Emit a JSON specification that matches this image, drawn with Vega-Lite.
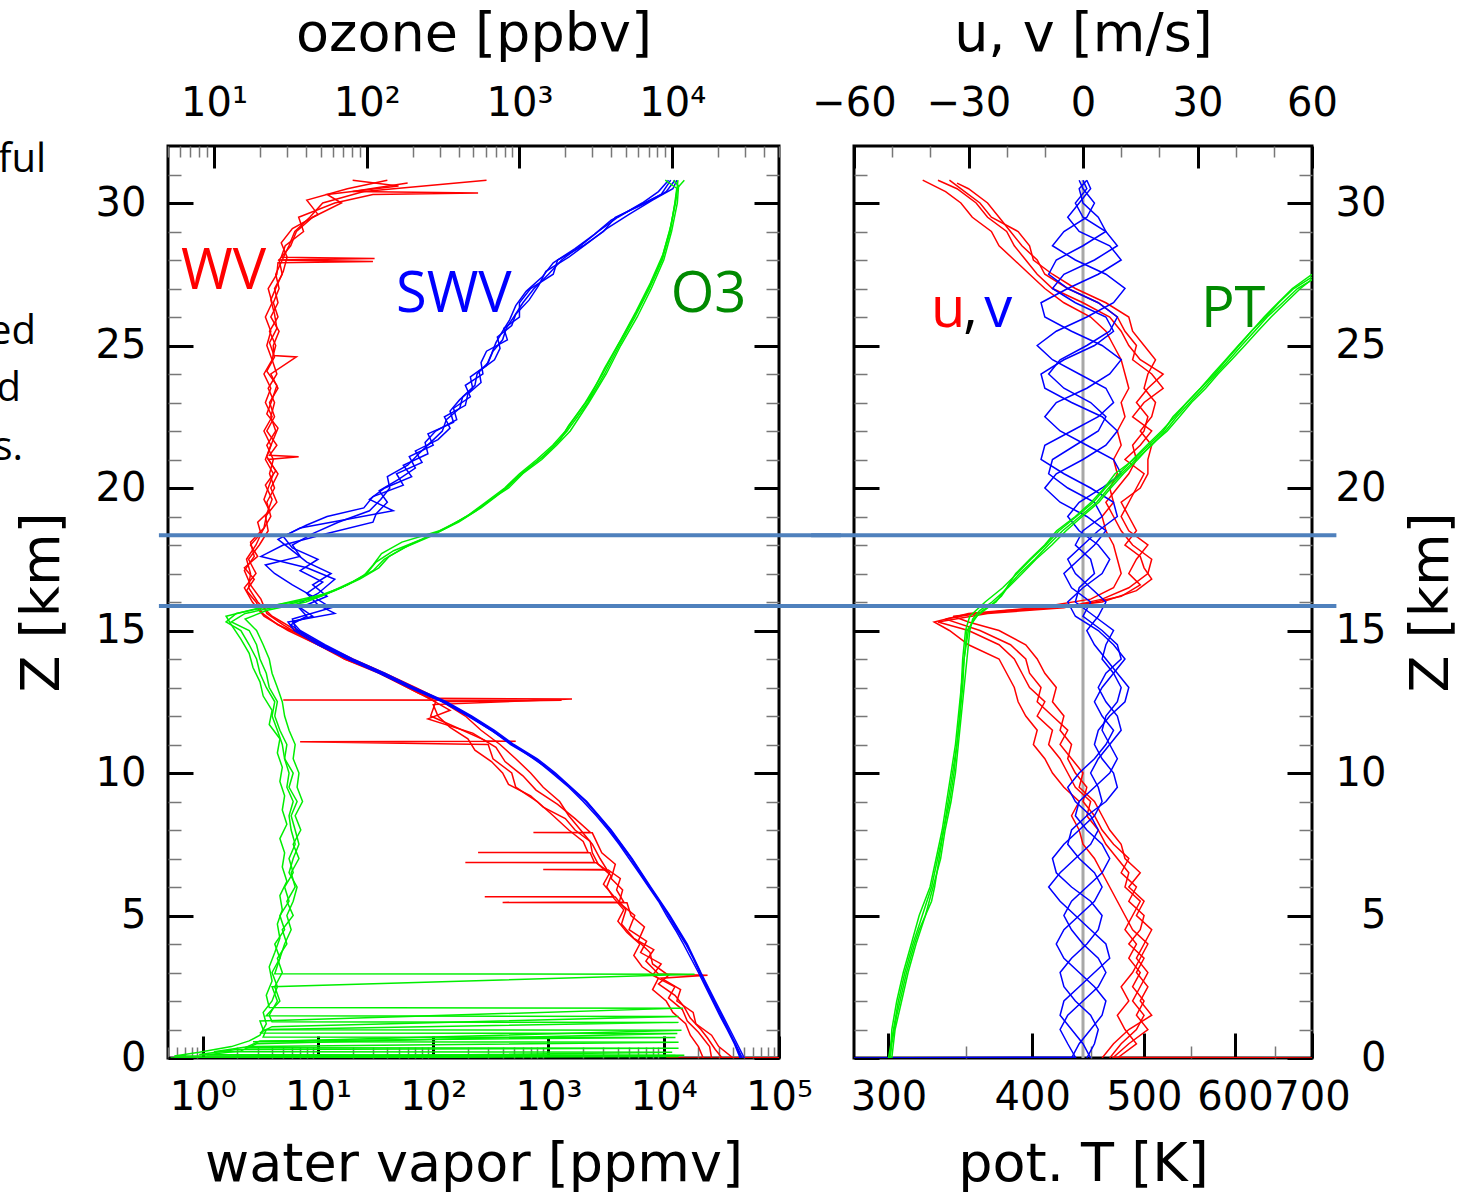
{
"$schema": "https://vega.github.io/schema/vega-lite/v6.json",
"padding": {"left": -13, "top": 5, "right": 0, "bottom": 0},
"bounds": "flush",
"spacing": 75,
"config": {
 "view": {"stroke": "#000", "strokeWidth": 3},
 "axis": {"labelFont": "DejaVu Sans", "labelFontSize": 40, "labelColor": "#000", "titleFont": "DejaVu Sans", "titleFontSize": 54, "titleFontWeight": "normal", "titleColor": "#000", "grid": false, "domain": false, "labelFlush": false, "labelOverlap": false, "labelBound": false}
},
"datasets": {
 "wv": [
  {"p":1,"z":0,"x":10500},{"p":1,"z":0.005,"x":100000},{"p":1,"z":0.01,"x":32000},{"p":1,"z":0.3,"x":28000},{"p":1,"z":0.7,"x":24000},{"p":1,"z":1.0,"x":21000},{"p":1,"z":1.4,"x":17000},{"p":1,"z":1.8,"x":15000},{"p":1,"z":2.2,"x":12500},{"p":1,"z":2.6,"x":9000},{"p":1,"z":2.9,"x":11000},{"p":1,"z":3.3,"x":8000},{"p":1,"z":3.7,"x":7600},{"p":1,"z":4.1,"x":6000},{"p":1,"z":4.6,"x":6800},{"p":1,"z":5.0,"x":5200},{"p":1,"z":5.45,"x":4800},{"p":1,"z":5.46,"x":400},{"p":1,"z":5.47,"x":4500},{"p":1,"z":5.9,"x":3900},{"p":1,"z":6.3,"x":4200},{"p":1,"z":6.6,"x":3300},{"p":1,"z":6.61,"x":900},{"p":1,"z":6.62,"x":3200},{"p":1,"z":7.0,"x":2800},{"p":1,"z":7.5,"x":2400},{"p":1,"z":8.0,"x":1900},{"p":1,"z":8.5,"x":1500},{"p":1,"z":9.0,"x":1250},{"p":1,"z":9.5,"x":900},{"p":1,"z":10.0,"x":700},{"p":1,"z":10.5,"x":520},{"p":1,"z":11.0,"x":380},{"p":1,"z":11.5,"x":260},{"p":1,"z":12.0,"x":190},{"p":1,"z":12.5,"x":120},{"p":1,"z":12.55,"x":1300},{"p":1,"z":12.56,"x":5},{"p":1,"z":12.57,"x":115},{"p":1,"z":13.0,"x":70},{"p":1,"z":13.5,"x":38},{"p":1,"z":14.0,"x":20},{"p":1,"z":14.5,"x":11},{"p":1,"z":15.0,"x":6.5},{"p":1,"z":15.5,"x":4.0},{"p":1,"z":16.0,"x":3.0},{"p":1,"z":16.5,"x":2.5},{"p":1,"z":17.0,"x":2.6},{"p":1,"z":17.5,"x":2.4},{"p":1,"z":18.0,"x":2.9},{"p":1,"z":18.5,"x":3.3},{"p":1,"z":19.0,"x":3.9},{"p":1,"z":19.5,"x":3.6},{"p":1,"z":20.0,"x":4.2},{"p":1,"z":20.5,"x":3.8},{"p":1,"z":21.0,"x":4.1},{"p":1,"z":21.5,"x":3.6},{"p":1,"z":22.0,"x":4.3},{"p":1,"z":22.5,"x":3.9},{"p":1,"z":23.0,"x":4.2},{"p":1,"z":23.5,"x":3.7},{"p":1,"z":24.0,"x":4.4},{"p":1,"z":24.5,"x":4.0},{"p":1,"z":25.0,"x":4.3},{"p":1,"z":25.5,"x":3.8},{"p":1,"z":26.0,"x":4.5},{"p":1,"z":26.5,"x":4.1},{"p":1,"z":27.0,"x":4.6},{"p":1,"z":27.5,"x":4.3},{"p":1,"z":28.0,"x":4.9},{"p":1,"z":28.5,"x":5.6},{"p":1,"z":29.0,"x":6.3},{"p":1,"z":29.5,"x":8.5},{"p":1,"z":30.0,"x":11},{"p":1,"z":30.4,"x":25},{"p":1,"z":30.8,"x":290},
  {"p":2,"z":0,"x":40000},{"p":2,"z":0.4,"x":30000},{"p":2,"z":0.8,"x":26000},{"p":2,"z":1.2,"x":19000},{"p":2,"z":1.6,"x":18000},{"p":2,"z":2.0,"x":13000},{"p":2,"z":2.4,"x":14000},{"p":2,"z":2.8,"x":9500},{"p":2,"z":2.9,"x":24000},{"p":2,"z":2.95,"x":9000},{"p":2,"z":3.4,"x":7000},{"p":2,"z":3.8,"x":8200},{"p":2,"z":4.2,"x":5500},{"p":2,"z":4.7,"x":4300},{"p":2,"z":5.2,"x":4700},{"p":2,"z":5.65,"x":3800},{"p":2,"z":5.66,"x":280},{"p":2,"z":5.67,"x":3700},{"p":2,"z":6.1,"x":3000},{"p":2,"z":6.5,"x":3400},{"p":2,"z":6.85,"x":2600},{"p":2,"z":6.86,"x":190},{"p":2,"z":6.87,"x":2500},{"p":2,"z":7.2,"x":2300},{"p":2,"z":7.21,"x":245},{"p":2,"z":7.22,"x":2200},{"p":2,"z":7.6,"x":2000},{"p":2,"z":8.0,"x":1500},{"p":2,"z":8.5,"x":1100},{"p":2,"z":9.0,"x":800},{"p":2,"z":9.5,"x":520},{"p":2,"z":10.0,"x":480},{"p":2,"z":10.5,"x":330},{"p":2,"z":11.0,"x":300},{"p":2,"z":11.1,"x":7},{"p":2,"z":11.11,"x":520},{"p":2,"z":11.12,"x":290},{"p":2,"z":11.5,"x":180},{"p":2,"z":12.0,"x":95},{"p":2,"z":12.5,"x":105},{"p":2,"z":13.0,"x":60},{"p":2,"z":13.5,"x":34},{"p":2,"z":14.0,"x":17},{"p":2,"z":14.5,"x":10},{"p":2,"z":15.0,"x":5.5},{"p":2,"z":15.5,"x":3.4},{"p":2,"z":16.0,"x":2.7},{"p":2,"z":16.5,"x":2.3},{"p":2,"z":17.0,"x":2.9},{"p":2,"z":17.5,"x":2.5},{"p":2,"z":18.0,"x":3.1},{"p":2,"z":18.5,"x":3.7},{"p":2,"z":19.0,"x":3.5},{"p":2,"z":19.5,"x":4.4},{"p":2,"z":20.0,"x":3.9},{"p":2,"z":20.5,"x":4.5},{"p":2,"z":21.0,"x":3.7},{"p":2,"z":21.1,"x":6.8},{"p":2,"z":21.15,"x":3.8},{"p":2,"z":21.5,"x":4.4},{"p":2,"z":22.0,"x":3.6},{"p":2,"z":22.5,"x":4.2},{"p":2,"z":23.0,"x":3.8},{"p":2,"z":23.5,"x":4.5},{"p":2,"z":24.0,"x":3.9},{"p":2,"z":24.6,"x":6.5},{"p":2,"z":24.65,"x":4.1},{"p":2,"z":25.0,"x":4.1},{"p":2,"z":25.5,"x":4.6},{"p":2,"z":26.0,"x":3.9},{"p":2,"z":26.5,"x":4.5},{"p":2,"z":27.0,"x":4.2},{"p":2,"z":27.5,"x":4.9},{"p":2,"z":28.0,"x":4.6},{"p":2,"z":28.05,"x":31},{"p":2,"z":28.1,"x":4.8},{"p":2,"z":28.5,"x":5.2},{"p":2,"z":29.0,"x":7.5},{"p":2,"z":29.5,"x":6.8},{"p":2,"z":30.0,"x":14},{"p":2,"z":30.3,"x":30},{"p":2,"z":30.35,"x":245},{"p":2,"z":30.4,"x":20},{"p":2,"z":30.7,"x":60},
  {"p":3,"z":0,"x":26000},{"p":3,"z":0.4,"x":25000},{"p":3,"z":0.9,"x":20000},{"p":3,"z":1.3,"x":16000},{"p":3,"z":1.7,"x":14500},{"p":3,"z":2.1,"x":11000},{"p":3,"z":2.5,"x":12500},{"p":3,"z":2.9,"x":8000},{"p":3,"z":3.3,"x":9500},{"p":3,"z":3.7,"x":6300},{"p":3,"z":4.1,"x":7100},{"p":3,"z":4.5,"x":5000},{"p":3,"z":5.0,"x":5600},{"p":3,"z":5.45,"x":4100},{"p":3,"z":5.9,"x":4400},{"p":3,"z":6.3,"x":3500},{"p":3,"z":6.8,"x":3800},{"p":3,"z":7.2,"x":2900},{"p":3,"z":7.9,"x":2400},{"p":3,"z":7.91,"x":740},{"p":3,"z":7.92,"x":2300},{"p":3,"z":8.4,"x":1700},{"p":3,"z":8.9,"x":1200},{"p":3,"z":9.4,"x":780},{"p":3,"z":9.9,"x":600},{"p":3,"z":10.4,"x":420},{"p":3,"z":10.9,"x":350},{"p":3,"z":11.4,"x":220},{"p":3,"z":11.9,"x":90},{"p":3,"z":12.2,"x":140},{"p":3,"z":12.7,"x":85},{"p":3,"z":13.2,"x":50},{"p":3,"z":13.7,"x":29},{"p":3,"z":14.2,"x":14},{"p":3,"z":14.7,"x":8},{"p":3,"z":15.2,"x":5},{"p":3,"z":15.6,"x":3.6},{"p":3,"z":16.1,"x":3.2},{"p":3,"z":16.6,"x":2.6},{"p":3,"z":17.1,"x":2.3},{"p":3,"z":17.6,"x":2.8},{"p":3,"z":18.1,"x":2.6},{"p":3,"z":18.6,"x":3.4},{"p":3,"z":19.1,"x":3.6},{"p":3,"z":19.6,"x":4.0},{"p":3,"z":20.1,"x":3.5},{"p":3,"z":20.6,"x":4.3},{"p":3,"z":21.1,"x":3.6},{"p":3,"z":21.6,"x":4.0},{"p":3,"z":22.1,"x":4.5},{"p":3,"z":22.6,"x":3.6},{"p":3,"z":23.1,"x":4.0},{"p":3,"z":23.6,"x":4.4},{"p":3,"z":24.1,"x":3.6},{"p":3,"z":24.6,"x":4.2},{"p":3,"z":25.1,"x":3.8},{"p":3,"z":25.6,"x":4.4},{"p":3,"z":26.1,"x":4.2},{"p":3,"z":26.6,"x":3.9},{"p":3,"z":27.1,"x":4.4},{"p":3,"z":27.6,"x":5.0},{"p":3,"z":28.1,"x":5.4},{"p":3,"z":28.6,"x":4.8},{"p":3,"z":29.1,"x":6},{"p":3,"z":29.6,"x":10},{"p":3,"z":30.1,"x":8},{"p":3,"z":30.5,"x":18},{"p":3,"z":30.8,"x":40},
  {"p":4,"z":0,"x":22000},{"p":4,"z":0.4,"x":20000},{"p":4,"z":0.8,"x":17000},{"p":4,"z":1.2,"x":15500},{"p":4,"z":1.6,"x":12000},{"p":4,"z":2.0,"x":10500},{"p":4,"z":2.4,"x":8000},{"p":4,"z":2.8,"x":9000},{"p":4,"z":3.2,"x":6500},{"p":4,"z":3.6,"x":5500},{"p":4,"z":4.0,"x":6200},{"p":4,"z":4.4,"x":4800},{"p":4,"z":4.8,"x":4000},{"p":4,"z":5.2,"x":4500},{"p":4,"z":5.6,"x":3700},{"p":4,"z":6.0,"x":3200},{"p":4,"z":6.4,"x":3500},{"p":4,"z":6.8,"x":2700},{"p":4,"z":7.2,"x":2400},{"p":4,"z":7.6,"x":2300},{"p":4,"z":8.0,"x":1700},{"p":4,"z":8.4,"x":1400},{"p":4,"z":8.8,"x":900},{"p":4,"z":9.2,"x":700},{"p":4,"z":9.6,"x":450},{"p":4,"z":10.0,"x":400},{"p":4,"z":10.4,"x":320},{"p":4,"z":10.8,"x":230},{"p":4,"z":11.2,"x":200},{"p":4,"z":11.6,"x":140},{"p":4,"z":12.0,"x":110},{"p":4,"z":12.4,"x":100},{"p":4,"z":12.6,"x":1600},{"p":4,"z":12.62,"x":98},{"p":4,"z":12.8,"x":75},{"p":4,"z":13.2,"x":48},{"p":4,"z":13.6,"x":31},{"p":4,"z":14.0,"x":17},{"p":4,"z":14.4,"x":12},{"p":4,"z":14.8,"x":7.5},{"p":4,"z":15.2,"x":4.5},{"p":4,"z":15.6,"x":3.3},{"p":4,"z":16.0,"x":2.9},{"p":4,"z":16.4,"x":2.4},{"p":4,"z":16.8,"x":2.8},{"p":4,"z":17.2,"x":2.3},{"p":4,"z":17.6,"x":3.0},{"p":4,"z":18.0,"x":2.6},{"p":4,"z":18.4,"x":3.2},{"p":4,"z":18.8,"x":3.0},{"p":4,"z":19.2,"x":3.8},{"p":4,"z":19.6,"x":3.4},{"p":4,"z":20.0,"x":3.7},{"p":4,"z":20.5,"x":4.1},{"p":4,"z":21.0,"x":3.5},{"p":4,"z":21.5,"x":3.9},{"p":4,"z":22.0,"x":3.4},{"p":4,"z":22.5,"x":4.0},{"p":4,"z":23.0,"x":3.5},{"p":4,"z":23.5,"x":3.9},{"p":4,"z":24.0,"x":3.4},{"p":4,"z":24.5,"x":4.0},{"p":4,"z":25.0,"x":3.6},{"p":4,"z":25.5,"x":3.9},{"p":4,"z":26.0,"x":3.5},{"p":4,"z":26.5,"x":4.0},{"p":4,"z":27.0,"x":3.7},{"p":4,"z":27.5,"x":4.4},{"p":4,"z":27.9,"x":4.5},{"p":4,"z":27.95,"x":30},{"p":4,"z":28.0,"x":4.6},{"p":4,"z":28.5,"x":5.8},{"p":4,"z":29.0,"x":6.5},{"p":4,"z":29.5,"x":9},{"p":4,"z":30.0,"x":16},{"p":4,"z":30.3,"x":12},{"p":4,"z":30.6,"x":50},{"p":4,"z":30.8,"x":20}
 ],
 "swv": [
  {"p":1,"z":0,"x":48000},{"p":1,"z":0.5,"x":42000},{"p":1,"z":1,"x":36000},{"p":1,"z":1.5,"x":31000},{"p":1,"z":2,"x":27000},{"p":1,"z":2.5,"x":23500},{"p":1,"z":3,"x":20500},{"p":1,"z":3.5,"x":18000},{"p":1,"z":4,"x":15500},{"p":1,"z":4.5,"x":13000},{"p":1,"z":5,"x":11000},{"p":1,"z":5.5,"x":9200},{"p":1,"z":6,"x":7500},{"p":1,"z":6.5,"x":6200},{"p":1,"z":7,"x":5200},{"p":1,"z":7.5,"x":4200},{"p":1,"z":8,"x":3400},{"p":1,"z":8.5,"x":2700},{"p":1,"z":9,"x":2100},{"p":1,"z":9.5,"x":1550},{"p":1,"z":10,"x":1100},{"p":1,"z":10.5,"x":780},{"p":1,"z":11,"x":480},{"p":1,"z":11.5,"x":330},{"p":1,"z":12,"x":210},{"p":1,"z":12.5,"x":125},{"p":1,"z":13,"x":65},{"p":1,"z":13.5,"x":36},{"p":1,"z":14,"x":19},{"p":1,"z":14.5,"x":11},{"p":1,"z":15,"x":6.5},{"p":1,"z":15.4,"x":6},{"p":1,"z":15.8,"x":13},{"p":1,"z":16.2,"x":9},{"p":1,"z":16.6,"x":6},{"p":1,"z":17.0,"x":4.2},{"p":1,"z":17.3,"x":3.5},{"p":1,"z":17.6,"x":7},{"p":1,"z":18.0,"x":6},{"p":1,"z":18.4,"x":9},{"p":1,"z":18.8,"x":15},{"p":1,"z":19.2,"x":28},{"p":1,"z":19.6,"x":35},{"p":1,"z":20.0,"x":42},{"p":1,"z":20.4,"x":40},{"p":1,"z":20.8,"x":60},{"p":1,"z":21.2,"x":75},{"p":1,"z":21.6,"x":95},{"p":1,"z":22.0,"x":120},{"p":1,"z":22.4,"x":130},{"p":1,"z":22.8,"x":170},{"p":1,"z":23.2,"x":180},{"p":1,"z":23.6,"x":230},{"p":1,"z":24.0,"x":240},{"p":1,"z":24.4,"x":300},{"p":1,"z":24.8,"x":330},{"p":1,"z":25.2,"x":400},{"p":1,"z":25.6,"x":430},{"p":1,"z":26.0,"x":500},{"p":1,"z":26.5,"x":600},{"p":1,"z":27.0,"x":750},{"p":1,"z":27.5,"x":1000},{"p":1,"z":28.0,"x":1300},{"p":1,"z":28.5,"x":1900},{"p":1,"z":29.0,"x":2700},{"p":1,"z":29.5,"x":4000},{"p":1,"z":30.0,"x":6500},{"p":1,"z":30.4,"x":9000},{"p":1,"z":30.8,"x":11000},
  {"p":2,"z":0,"x":46000},{"p":2,"z":0.5,"x":41000},{"p":2,"z":1,"x":35500},{"p":2,"z":1.5,"x":30500},{"p":2,"z":2,"x":26500},{"p":2,"z":2.5,"x":23000},{"p":2,"z":3,"x":20000},{"p":2,"z":3.5,"x":17200},{"p":2,"z":4,"x":14800},{"p":2,"z":4.5,"x":12600},{"p":2,"z":5,"x":10600},{"p":2,"z":5.5,"x":9000},{"p":2,"z":6,"x":7400},{"p":2,"z":6.5,"x":6100},{"p":2,"z":7,"x":5000},{"p":2,"z":7.5,"x":4100},{"p":2,"z":8,"x":3300},{"p":2,"z":8.5,"x":2600},{"p":2,"z":9,"x":2000},{"p":2,"z":9.5,"x":1500},{"p":2,"z":10,"x":1070},{"p":2,"z":10.5,"x":760},{"p":2,"z":11,"x":470},{"p":2,"z":11.5,"x":320},{"p":2,"z":12,"x":200},{"p":2,"z":12.5,"x":120},{"p":2,"z":13,"x":62},{"p":2,"z":13.5,"x":34},{"p":2,"z":14,"x":18},{"p":2,"z":14.5,"x":10},{"p":2,"z":15,"x":6.2},{"p":2,"z":15.3,"x":5.5},{"p":2,"z":15.6,"x":14},{"p":2,"z":15.9,"x":10},{"p":2,"z":16.3,"x":8},{"p":2,"z":16.7,"x":11},{"p":2,"z":17.1,"x":7},{"p":2,"z":17.5,"x":10},{"p":2,"z":17.9,"x":6},{"p":2,"z":18.3,"x":5},{"p":2,"z":18.7,"x":8},{"p":2,"z":19.0,"x":12},{"p":2,"z":19.3,"x":25},{"p":2,"z":19.7,"x":30},{"p":2,"z":20.1,"x":55},{"p":2,"z":20.5,"x":48},{"p":2,"z":20.9,"x":80},{"p":2,"z":21.3,"x":70},{"p":2,"z":21.7,"x":110},{"p":2,"z":22.1,"x":140},{"p":2,"z":22.5,"x":125},{"p":2,"z":22.9,"x":190},{"p":2,"z":23.3,"x":200},{"p":2,"z":23.7,"x":260},{"p":2,"z":24.1,"x":250},{"p":2,"z":24.5,"x":340},{"p":2,"z":24.9,"x":380},{"p":2,"z":25.3,"x":360},{"p":2,"z":25.7,"x":480},{"p":2,"z":26.1,"x":520},{"p":2,"z":26.6,"x":680},{"p":2,"z":27.1,"x":820},{"p":2,"z":27.6,"x":950},{"p":2,"z":28.1,"x":1500},{"p":2,"z":28.6,"x":2200},{"p":2,"z":29.1,"x":3200},{"p":2,"z":29.6,"x":5000},{"p":2,"z":30.1,"x":8000},{"p":2,"z":30.5,"x":12000},{"p":2,"z":30.8,"x":13000},
  {"p":3,"z":0,"x":50000},{"p":3,"z":1,"x":37500},{"p":3,"z":2,"x":28000},{"p":3,"z":3,"x":21000},{"p":3,"z":4,"x":16000},{"p":3,"z":5,"x":11300},{"p":3,"z":6,"x":7700},{"p":3,"z":7,"x":5300},{"p":3,"z":8,"x":3500},{"p":3,"z":9,"x":2150},{"p":3,"z":10,"x":1150},{"p":3,"z":10.5,"x":800},{"p":3,"z":11,"x":500},{"p":3,"z":11.5,"x":340},{"p":3,"z":12,"x":215},{"p":3,"z":12.5,"x":130},{"p":3,"z":13,"x":68},{"p":3,"z":13.5,"x":38},{"p":3,"z":14,"x":20},{"p":3,"z":14.5,"x":11.5},{"p":3,"z":15,"x":7},{"p":3,"z":15.3,"x":6},{"p":3,"z":15.5,"x":9},{"p":3,"z":15.8,"x":7},{"p":3,"z":16.2,"x":12},{"p":3,"z":16.6,"x":9},{"p":3,"z":17.0,"x":13},{"p":3,"z":17.4,"x":8},{"p":3,"z":17.8,"x":6},{"p":3,"z":18.2,"x":4.5},{"p":3,"z":18.6,"x":7},{"p":3,"z":18.9,"x":18},{"p":3,"z":19.2,"x":45},{"p":3,"z":19.6,"x":28},{"p":3,"z":20.0,"x":38},{"p":3,"z":20.4,"x":65},{"p":3,"z":20.8,"x":55},{"p":3,"z":21.2,"x":90},{"p":3,"z":21.6,"x":85},{"p":3,"z":22.0,"x":105},{"p":3,"z":22.4,"x":160},{"p":3,"z":22.8,"x":150},{"p":3,"z":23.2,"x":210},{"p":3,"z":23.6,"x":190},{"p":3,"z":24.0,"x":270},{"p":3,"z":24.4,"x":260},{"p":3,"z":24.8,"x":290},{"p":3,"z":25.2,"x":440},{"p":3,"z":25.6,"x":410},{"p":3,"z":26.0,"x":560},{"p":3,"z":26.5,"x":560},{"p":3,"z":27.0,"x":700},{"p":3,"z":27.5,"x":1100},{"p":3,"z":28.0,"x":1200},{"p":3,"z":28.5,"x":2000},{"p":3,"z":29.0,"x":3000},{"p":3,"z":29.5,"x":3800},{"p":3,"z":30.0,"x":7000},{"p":3,"z":30.4,"x":10500},{"p":3,"z":30.8,"x":12500},
  {"p":4,"z":0,"x":47000},{"p":4,"z":1,"x":36500},{"p":4,"z":2,"x":27500},{"p":4,"z":3,"x":20800},{"p":4,"z":4,"x":15800},{"p":4,"z":5,"x":11100},{"p":4,"z":6,"x":7600},{"p":4,"z":7,"x":5250},{"p":4,"z":8,"x":3450},{"p":4,"z":9,"x":2120},{"p":4,"z":10,"x":1120},{"p":4,"z":11,"x":490},{"p":4,"z":12,"x":205},{"p":4,"z":12.5,"x":122},{"p":4,"z":13,"x":64},{"p":4,"z":13.5,"x":35},{"p":4,"z":14,"x":18.5},{"p":4,"z":14.5,"x":10.5},{"p":4,"z":15,"x":6.8},{"p":4,"z":15.2,"x":5.8},{"p":4,"z":15.5,"x":8},{"p":4,"z":15.9,"x":6.5},{"p":4,"z":16.3,"x":10},{"p":4,"z":16.8,"x":14},{"p":4,"z":17.2,"x":8},{"p":4,"z":17.6,"x":3.2},{"p":4,"z":18.0,"x":5},{"p":4,"z":18.4,"x":12},{"p":4,"z":18.8,"x":30},{"p":4,"z":19.1,"x":32},{"p":4,"z":19.5,"x":40},{"p":4,"z":19.9,"x":34},{"p":4,"z":20.3,"x":50},{"p":4,"z":20.7,"x":70},{"p":4,"z":21.1,"x":62},{"p":4,"z":21.5,"x":100},{"p":4,"z":21.9,"x":90},{"p":4,"z":22.3,"x":150},{"p":4,"z":22.7,"x":140},{"p":4,"z":23.1,"x":170},{"p":4,"z":23.5,"x":220},{"p":4,"z":23.9,"x":210},{"p":4,"z":24.3,"x":290},{"p":4,"z":24.7,"x":320},{"p":4,"z":25.1,"x":350},{"p":4,"z":25.5,"x":400},{"p":4,"z":25.9,"x":460},{"p":4,"z":26.4,"x":520},{"p":4,"z":26.9,"x":640},{"p":4,"z":27.4,"x":880},{"p":4,"z":27.9,"x":1100},{"p":4,"z":28.4,"x":1700},{"p":4,"z":28.9,"x":2500},{"p":4,"z":29.4,"x":3500},{"p":4,"z":29.9,"x":6000},{"p":4,"z":30.3,"x":9500},{"p":4,"z":30.8,"x":11500}
 ],
 "o3": [
  {"p":1,"z":0,"x":6},{"p":1,"z":0.1,"x":12000},{"p":1,"z":0.12,"x":8},{"p":1,"z":0.3,"x":14},{"p":1,"z":0.34,"x":11000},{"p":1,"z":0.36,"x":16},{"p":1,"z":0.6,"x":20},{"p":1,"z":0.72,"x":10500},{"p":1,"z":0.74,"x":21},{"p":1,"z":1.0,"x":22},{"p":1,"z":1.25,"x":11000},{"p":1,"z":1.27,"x":24},{"p":1,"z":1.5,"x":23},{"p":1,"z":2,"x":26},{"p":1,"z":2.5,"x":24},{"p":1,"z":2.94,"x":14000},{"p":1,"z":2.96,"x":25},{"p":1,"z":3.5,"x":27},{"p":1,"z":4,"x":29},{"p":1,"z":4.5,"x":32},{"p":1,"z":5,"x":30},{"p":1,"z":5.5,"x":33},{"p":1,"z":6,"x":35},{"p":1,"z":6.5,"x":31},{"p":1,"z":7,"x":33},{"p":1,"z":7.5,"x":36},{"p":1,"z":8,"x":34},{"p":1,"z":8.5,"x":32},{"p":1,"z":9,"x":35},{"p":1,"z":9.5,"x":31},{"p":1,"z":10,"x":33},{"p":1,"z":10.5,"x":29},{"p":1,"z":11,"x":30},{"p":1,"z":11.5,"x":27},{"p":1,"z":12,"x":25},{"p":1,"z":12.5,"x":26},{"p":1,"z":13,"x":23},{"p":1,"z":13.5,"x":22},{"p":1,"z":14,"x":20},{"p":1,"z":14.5,"x":19},{"p":1,"z":15,"x":17},{"p":1,"z":15.3,"x":13},{"p":1,"z":15.6,"x":16},{"p":1,"z":15.9,"x":30},{"p":1,"z":16.2,"x":50},{"p":1,"z":16.6,"x":75},{"p":1,"z":17.0,"x":100},{"p":1,"z":17.4,"x":115},{"p":1,"z":17.8,"x":150},{"p":1,"z":18.2,"x":230},{"p":1,"z":18.6,"x":330},{"p":1,"z":19.0,"x":450},{"p":1,"z":19.5,"x":600},{"p":1,"z":20.0,"x":800},{"p":1,"z":20.5,"x":1000},{"p":1,"z":21,"x":1300},{"p":1,"z":21.5,"x":1650},{"p":1,"z":22,"x":2000},{"p":1,"z":23,"x":2700},{"p":1,"z":24,"x":3500},{"p":1,"z":25,"x":4400},{"p":1,"z":26,"x":5600},{"p":1,"z":27,"x":7000},{"p":1,"z":28,"x":8500},{"p":1,"z":29,"x":9600},{"p":1,"z":30,"x":10500},{"p":1,"z":30.5,"x":10800},{"p":1,"z":30.8,"x":9000},
  {"p":2,"z":0,"x":5.5},{"p":2,"z":0.09,"x":10500},{"p":2,"z":0.11,"x":9},{"p":2,"z":0.25,"x":15},{"p":2,"z":0.5,"x":19},{"p":2,"z":0.86,"x":10800},{"p":2,"z":0.88,"x":20},{"p":2,"z":1.1,"x":24},{"p":2,"z":1.46,"x":11000},{"p":2,"z":1.48,"x":22},{"p":2,"z":2.0,"x":27},{"p":2,"z":2.5,"x":25},{"p":2,"z":3.0,"x":28},{"p":2,"z":3.5,"x":26},{"p":2,"z":4.0,"x":30},{"p":2,"z":4.5,"x":28},{"p":2,"z":5.0,"x":33},{"p":2,"z":5.5,"x":30},{"p":2,"z":6.0,"x":34},{"p":2,"z":6.5,"x":32},{"p":2,"z":7.0,"x":36},{"p":2,"z":7.5,"x":33},{"p":2,"z":8.0,"x":37},{"p":2,"z":8.5,"x":34},{"p":2,"z":9.0,"x":38},{"p":2,"z":9.5,"x":35},{"p":2,"z":10.0,"x":36},{"p":2,"z":10.5,"x":33},{"p":2,"z":11.0,"x":34},{"p":2,"z":11.5,"x":31},{"p":2,"z":12.0,"x":29},{"p":2,"z":12.5,"x":28},{"p":2,"z":13.0,"x":26},{"p":2,"z":13.5,"x":24},{"p":2,"z":14.0,"x":23},{"p":2,"z":14.5,"x":21},{"p":2,"z":15.0,"x":19},{"p":2,"z":15.4,"x":16},{"p":2,"z":15.7,"x":22},{"p":2,"z":16.0,"x":40},{"p":2,"z":16.4,"x":62},{"p":2,"z":16.8,"x":90},{"p":2,"z":17.2,"x":120},{"p":2,"z":17.6,"x":140},{"p":2,"z":18.0,"x":190},{"p":2,"z":18.4,"x":280},{"p":2,"z":18.8,"x":400},{"p":2,"z":19.2,"x":520},{"p":2,"z":19.6,"x":650},{"p":2,"z":20.0,"x":850},{"p":2,"z":20.5,"x":1050},{"p":2,"z":21,"x":1400},{"p":2,"z":21.5,"x":1750},{"p":2,"z":22,"x":2150},{"p":2,"z":23,"x":2850},{"p":2,"z":24,"x":3700},{"p":2,"z":25,"x":4600},{"p":2,"z":26,"x":5900},{"p":2,"z":27,"x":7300},{"p":2,"z":28,"x":8800},{"p":2,"z":29,"x":9900},{"p":2,"z":30,"x":10800},{"p":2,"z":30.6,"x":11000},{"p":2,"z":30.8,"x":10200},
  {"p":3,"z":0,"x":7},{"p":3,"z":0.2,"x":10000},{"p":3,"z":0.22,"x":10},{"p":3,"z":0.4,"x":17},{"p":3,"z":0.55,"x":11000},{"p":3,"z":0.57,"x":18},{"p":3,"z":0.97,"x":11500},{"p":3,"z":0.99,"x":21},{"p":3,"z":1.3,"x":20},{"p":3,"z":1.75,"x":11800},{"p":3,"z":1.77,"x":23},{"p":3,"z":2.2,"x":22},{"p":3,"z":2.7,"x":24},{"p":3,"z":3.2,"x":23},{"p":3,"z":3.7,"x":25},{"p":3,"z":4.2,"x":27},{"p":3,"z":4.7,"x":26},{"p":3,"z":5.2,"x":28},{"p":3,"z":5.7,"x":27},{"p":3,"z":6.2,"x":30},{"p":3,"z":6.7,"x":28},{"p":3,"z":7.2,"x":29},{"p":3,"z":7.7,"x":27},{"p":3,"z":8.2,"x":30},{"p":3,"z":8.7,"x":28},{"p":3,"z":9.2,"x":29},{"p":3,"z":9.7,"x":27},{"p":3,"z":10.2,"x":28},{"p":3,"z":10.7,"x":26},{"p":3,"z":11.2,"x":27},{"p":3,"z":11.7,"x":23},{"p":3,"z":12.2,"x":24},{"p":3,"z":12.7,"x":21},{"p":3,"z":13.2,"x":20},{"p":3,"z":13.7,"x":18},{"p":3,"z":14.2,"x":17},{"p":3,"z":14.7,"x":15},{"p":3,"z":15.2,"x":13},{"p":3,"z":15.5,"x":12},{"p":3,"z":15.8,"x":20},{"p":3,"z":16.1,"x":42},{"p":3,"z":16.5,"x":68},{"p":3,"z":16.9,"x":95},{"p":3,"z":17.3,"x":110},{"p":3,"z":17.7,"x":125},{"p":3,"z":18.1,"x":170},{"p":3,"z":18.5,"x":300},{"p":3,"z":18.9,"x":420},{"p":3,"z":19.3,"x":560},{"p":3,"z":19.7,"x":700},{"p":3,"z":20.2,"x":900},{"p":3,"z":20.7,"x":1150},{"p":3,"z":21.2,"x":1500},{"p":3,"z":21.7,"x":1850},{"p":3,"z":22.2,"x":2100},{"p":3,"z":23.2,"x":2900},{"p":3,"z":24.2,"x":3600},{"p":3,"z":25.2,"x":4600},{"p":3,"z":26.2,"x":5800},{"p":3,"z":27.2,"x":7200},{"p":3,"z":28.2,"x":8700},{"p":3,"z":29.2,"x":9800},{"p":3,"z":30.2,"x":10600},{"p":3,"z":30.8,"x":10900},
  {"p":4,"z":0,"x":5.2},{"p":4,"z":0.05,"x":11000},{"p":4,"z":0.07,"x":5.5},{"p":4,"z":0.2,"x":8},{"p":4,"z":0.4,"x":13},{"p":4,"z":0.6,"x":17},{"p":4,"z":0.8,"x":20},{"p":4,"z":1.2,"x":22},{"p":4,"z":1.6,"x":21},{"p":4,"z":2.0,"x":24},{"p":4,"z":2.5,"x":26},{"p":4,"z":3.0,"x":24},{"p":4,"z":3.5,"x":27},{"p":4,"z":4.0,"x":25},{"p":4,"z":4.5,"x":29},{"p":4,"z":5.0,"x":27},{"p":4,"z":5.5,"x":31},{"p":4,"z":6.0,"x":29},{"p":4,"z":6.5,"x":33},{"p":4,"z":7.0,"x":31},{"p":4,"z":7.5,"x":34},{"p":4,"z":8.0,"x":32},{"p":4,"z":8.5,"x":31},{"p":4,"z":9.0,"x":33},{"p":4,"z":9.5,"x":30},{"p":4,"z":10.0,"x":31},{"p":4,"z":10.5,"x":29},{"p":4,"z":11.0,"x":28},{"p":4,"z":11.5,"x":26},{"p":4,"z":12.0,"x":24},{"p":4,"z":12.5,"x":25},{"p":4,"z":13.0,"x":22},{"p":4,"z":13.5,"x":20},{"p":4,"z":14.0,"x":19},{"p":4,"z":14.5,"x":17},{"p":4,"z":15.0,"x":15},{"p":4,"z":15.3,"x":12},{"p":4,"z":15.6,"x":14},{"p":4,"z":15.9,"x":26},{"p":4,"z":16.3,"x":55},{"p":4,"z":16.7,"x":80},{"p":4,"z":17.1,"x":110},{"p":4,"z":17.5,"x":130},{"p":4,"z":17.9,"x":175},{"p":4,"z":18.3,"x":260},{"p":4,"z":18.7,"x":360},{"p":4,"z":19.1,"x":480},{"p":4,"z":19.5,"x":620},{"p":4,"z":20.0,"x":820},{"p":4,"z":20.5,"x":1020},{"p":4,"z":21,"x":1350},{"p":4,"z":21.5,"x":1700},{"p":4,"z":22,"x":2050},{"p":4,"z":23,"x":2800},{"p":4,"z":24,"x":3600},{"p":4,"z":25,"x":4500},{"p":4,"z":26,"x":5700},{"p":4,"z":27,"x":7100},{"p":4,"z":28,"x":8600},{"p":4,"z":29,"x":9700},{"p":4,"z":30,"x":10400},{"p":4,"z":30.5,"x":10700},{"p":4,"z":30.8,"x":12000}
 ],
 "u": [
  {"p":1,"z":0,"x":60},{"p":1,"z":0.03,"x":8},{"p":1,"z":0.5,"x":12},{"p":1,"z":1.0,"x":17},{"p":1,"z":1.5,"x":14},{"p":1,"z":2.0,"x":16},{"p":1,"z":2.5,"x":13},{"p":1,"z":3.0,"x":15},{"p":1,"z":3.5,"x":12},{"p":1,"z":4.0,"x":14},{"p":1,"z":4.5,"x":11},{"p":1,"z":5.0,"x":13},{"p":1,"z":5.5,"x":15},{"p":1,"z":6.0,"x":11},{"p":1,"z":6.5,"x":12},{"p":1,"z":7.0,"x":9},{"p":1,"z":7.5,"x":6},{"p":1,"z":8.0,"x":4},{"p":1,"z":8.5,"x":1},{"p":1,"z":9.0,"x":2},{"p":1,"z":9.5,"x":-2},{"p":1,"z":10.0,"x":-4},{"p":1,"z":10.5,"x":-6},{"p":1,"z":11.0,"x":-9},{"p":1,"z":11.5,"x":-8},{"p":1,"z":12.0,"x":-12},{"p":1,"z":12.5,"x":-10},{"p":1,"z":13.0,"x":-14},{"p":1,"z":13.5,"x":-16},{"p":1,"z":14.0,"x":-18},{"p":1,"z":14.5,"x":-22},{"p":1,"z":15.0,"x":-30},{"p":1,"z":15.3,"x":-38},{"p":1,"z":15.6,"x":-25},{"p":1,"z":15.8,"x":-5},{"p":1,"z":16.1,"x":5},{"p":1,"z":16.5,"x":12},{"p":1,"z":17.0,"x":17},{"p":1,"z":17.5,"x":18},{"p":1,"z":18.0,"x":13},{"p":1,"z":18.5,"x":10},{"p":1,"z":19.0,"x":8},{"p":1,"z":19.5,"x":6},{"p":1,"z":20.0,"x":9},{"p":1,"z":20.5,"x":12},{"p":1,"z":21.0,"x":14},{"p":1,"z":21.5,"x":13},{"p":1,"z":22.0,"x":16},{"p":1,"z":22.5,"x":17},{"p":1,"z":23.0,"x":14},{"p":1,"z":23.5,"x":17},{"p":1,"z":24.0,"x":21},{"p":1,"z":24.5,"x":15},{"p":1,"z":25.0,"x":12},{"p":1,"z":25.5,"x":10},{"p":1,"z":26.0,"x":7},{"p":1,"z":26.5,"x":0},{"p":1,"z":27.0,"x":-8},{"p":1,"z":27.5,"x":-12},{"p":1,"z":28.0,"x":-15},{"p":1,"z":28.5,"x":-18},{"p":1,"z":29.0,"x":-20},{"p":1,"z":29.5,"x":-25},{"p":1,"z":30.0,"x":-28},{"p":1,"z":30.5,"x":-33},{"p":1,"z":30.8,"x":-38},
  {"p":2,"z":0,"x":5},{"p":2,"z":0.5,"x":8},{"p":2,"z":1,"x":12},{"p":2,"z":1.5,"x":18},{"p":2,"z":2,"x":15},{"p":2,"z":2.5,"x":17},{"p":2,"z":3,"x":14},{"p":2,"z":3.5,"x":16},{"p":2,"z":4,"x":12},{"p":2,"z":4.5,"x":15},{"p":2,"z":5,"x":16},{"p":2,"z":5.5,"x":12},{"p":2,"z":6,"x":14},{"p":2,"z":6.5,"x":10},{"p":2,"z":7,"x":12},{"p":2,"z":7.5,"x":8},{"p":2,"z":8,"x":5},{"p":2,"z":8.5,"x":3},{"p":2,"z":9,"x":0},{"p":2,"z":9.5,"x":1},{"p":2,"z":10,"x":-2},{"p":2,"z":10.5,"x":-4},{"p":2,"z":11,"x":-3},{"p":2,"z":11.5,"x":-6},{"p":2,"z":12,"x":-5},{"p":2,"z":12.5,"x":-8},{"p":2,"z":13,"x":-7},{"p":2,"z":13.5,"x":-10},{"p":2,"z":14,"x":-12},{"p":2,"z":14.5,"x":-15},{"p":2,"z":15,"x":-22},{"p":2,"z":15.3,"x":-30},{"p":2,"z":15.5,"x":-34},{"p":2,"z":15.7,"x":-20},{"p":2,"z":15.9,"x":0},{"p":2,"z":16.2,"x":10},{"p":2,"z":16.6,"x":15},{"p":2,"z":17.0,"x":12},{"p":2,"z":17.5,"x":14},{"p":2,"z":18.0,"x":17},{"p":2,"z":18.5,"x":12},{"p":2,"z":19.0,"x":10},{"p":2,"z":19.5,"x":12},{"p":2,"z":20.0,"x":14},{"p":2,"z":20.5,"x":16},{"p":2,"z":21.0,"x":11},{"p":2,"z":21.5,"x":15},{"p":2,"z":22.0,"x":18},{"p":2,"z":22.5,"x":13},{"p":2,"z":23.0,"x":16},{"p":2,"z":23.5,"x":21},{"p":2,"z":24.0,"x":18},{"p":2,"z":24.5,"x":13},{"p":2,"z":25.0,"x":14},{"p":2,"z":25.5,"x":11},{"p":2,"z":26.0,"x":9},{"p":2,"z":26.5,"x":4},{"p":2,"z":27.0,"x":-4},{"p":2,"z":27.5,"x":-10},{"p":2,"z":28.0,"x":-12},{"p":2,"z":28.5,"x":-16},{"p":2,"z":29.0,"x":-19},{"p":2,"z":29.5,"x":-22},{"p":2,"z":30.0,"x":-25},{"p":2,"z":30.5,"x":-30},{"p":2,"z":30.7,"x":-33},
  {"p":3,"z":0,"x":9},{"p":3,"z":0.5,"x":14},{"p":3,"z":1,"x":11},{"p":3,"z":1.5,"x":9},{"p":3,"z":2,"x":12},{"p":3,"z":2.5,"x":10},{"p":3,"z":3,"x":13},{"p":3,"z":3.5,"x":15},{"p":3,"z":4,"x":17},{"p":3,"z":4.5,"x":13},{"p":3,"z":5,"x":11},{"p":3,"z":5.5,"x":9},{"p":3,"z":6,"x":7},{"p":3,"z":6.5,"x":5},{"p":3,"z":7,"x":3},{"p":3,"z":7.5,"x":0},{"p":3,"z":8,"x":-1},{"p":3,"z":8.5,"x":-3},{"p":3,"z":9,"x":-1},{"p":3,"z":9.5,"x":-5},{"p":3,"z":10,"x":-8},{"p":3,"z":10.5,"x":-10},{"p":3,"z":11,"x":-13},{"p":3,"z":11.5,"x":-12},{"p":3,"z":12,"x":-15},{"p":3,"z":12.5,"x":-17},{"p":3,"z":13,"x":-18},{"p":3,"z":13.5,"x":-20},{"p":3,"z":14,"x":-22},{"p":3,"z":14.5,"x":-30},{"p":3,"z":15.0,"x":-35},{"p":3,"z":15.3,"x":-39},{"p":3,"z":15.6,"x":-30},{"p":3,"z":15.8,"x":-12},{"p":3,"z":16.1,"x":2},{"p":3,"z":16.5,"x":8},{"p":3,"z":17.0,"x":10},{"p":3,"z":17.5,"x":9},{"p":3,"z":18.0,"x":8},{"p":3,"z":18.5,"x":6},{"p":3,"z":19.0,"x":5},{"p":3,"z":19.5,"x":8},{"p":3,"z":20.0,"x":7},{"p":3,"z":20.5,"x":9},{"p":3,"z":21.0,"x":8},{"p":3,"z":21.5,"x":10},{"p":3,"z":22.0,"x":9},{"p":3,"z":22.5,"x":11},{"p":3,"z":23.0,"x":10},{"p":3,"z":23.5,"x":12},{"p":3,"z":24.0,"x":11},{"p":3,"z":24.5,"x":10},{"p":3,"z":25.0,"x":8},{"p":3,"z":25.5,"x":6},{"p":3,"z":26.0,"x":2},{"p":3,"z":26.5,"x":-5},{"p":3,"z":27.0,"x":-10},{"p":3,"z":27.5,"x":-14},{"p":3,"z":28.0,"x":-18},{"p":3,"z":28.5,"x":-22},{"p":3,"z":29.0,"x":-24},{"p":3,"z":29.5,"x":-29},{"p":3,"z":30.0,"x":-32},{"p":3,"z":30.4,"x":-36},{"p":3,"z":30.8,"x":-42},
  {"p":4,"z":0,"x":7},{"p":4,"z":0.5,"x":10},{"p":4,"z":1,"x":14},{"p":4,"z":1.5,"x":16},{"p":4,"z":2,"x":13},{"p":4,"z":2.5,"x":15},{"p":4,"z":3,"x":17},{"p":4,"z":3.5,"x":14},{"p":4,"z":4,"x":16},{"p":4,"z":4.5,"x":18},{"p":4,"z":5,"x":14},{"p":4,"z":5.5,"x":16},{"p":4,"z":6,"x":12},{"p":4,"z":6.5,"x":15},{"p":4,"z":7,"x":11},{"p":4,"z":7.5,"x":10},{"p":4,"z":8,"x":7},{"p":4,"z":8.5,"x":5},{"p":4,"z":9,"x":3},{"p":4,"z":9.5,"x":-1},{"p":4,"z":10,"x":0},{"p":4,"z":10.5,"x":-3},{"p":4,"z":11,"x":-6},{"p":4,"z":11.5,"x":-4},{"p":4,"z":12,"x":-8},{"p":4,"z":12.5,"x":-12},{"p":4,"z":13,"x":-11},{"p":4,"z":13.5,"x":-14},{"p":4,"z":14,"x":-15},{"p":4,"z":14.5,"x":-19},{"p":4,"z":15.0,"x":-27},{"p":4,"z":15.4,"x":-36},{"p":4,"z":15.6,"x":-28},{"p":4,"z":15.8,"x":-8},{"p":4,"z":16.0,"x":5},{"p":4,"z":16.4,"x":14},{"p":4,"z":16.8,"x":18},{"p":4,"z":17.2,"x":16},{"p":4,"z":17.6,"x":15},{"p":4,"z":18.0,"x":11},{"p":4,"z":18.5,"x":14},{"p":4,"z":19.0,"x":12},{"p":4,"z":19.5,"x":10},{"p":4,"z":20.0,"x":15},{"p":4,"z":20.5,"x":17},{"p":4,"z":21.0,"x":17},{"p":4,"z":21.5,"x":18},{"p":4,"z":22.0,"x":15},{"p":4,"z":22.5,"x":18},{"p":4,"z":23.0,"x":19},{"p":4,"z":23.5,"x":16},{"p":4,"z":24.0,"x":17},{"p":4,"z":24.5,"x":19},{"p":4,"z":25.0,"x":16},{"p":4,"z":25.5,"x":13},{"p":4,"z":26.0,"x":12},{"p":4,"z":26.5,"x":6},{"p":4,"z":27.0,"x":-2},{"p":4,"z":27.5,"x":-8},{"p":4,"z":28.0,"x":-13},{"p":4,"z":28.5,"x":-14},{"p":4,"z":29.0,"x":-17},{"p":4,"z":29.5,"x":-24},{"p":4,"z":30.0,"x":-27},{"p":4,"z":30.4,"x":-31},{"p":4,"z":30.8,"x":-35}
 ],
 "v": [
  {"p":1,"z":0,"x":-60},{"p":1,"z":0.03,"x":-2},{"p":1,"z":0.5,"x":-4},{"p":1,"z":1,"x":-6},{"p":1,"z":1.5,"x":-4},{"p":1,"z":2,"x":0},{"p":1,"z":2.5,"x":4},{"p":1,"z":3,"x":6},{"p":1,"z":3.5,"x":4},{"p":1,"z":4,"x":0},{"p":1,"z":4.5,"x":-3},{"p":1,"z":5,"x":-5},{"p":1,"z":5.5,"x":-3},{"p":1,"z":6,"x":1},{"p":1,"z":6.5,"x":5},{"p":1,"z":7,"x":7},{"p":1,"z":7.5,"x":5},{"p":1,"z":8,"x":1},{"p":1,"z":8.5,"x":-2},{"p":1,"z":9,"x":-1},{"p":1,"z":9.5,"x":3},{"p":1,"z":10,"x":7},{"p":1,"z":10.5,"x":9},{"p":1,"z":11,"x":7},{"p":1,"z":11.5,"x":5},{"p":1,"z":12,"x":6},{"p":1,"z":12.5,"x":9},{"p":1,"z":13,"x":10},{"p":1,"z":13.5,"x":8},{"p":1,"z":14,"x":5},{"p":1,"z":14.5,"x":6},{"p":1,"z":15,"x":8},{"p":1,"z":15.5,"x":3},{"p":1,"z":16,"x":-2},{"p":1,"z":16.5,"x":-1},{"p":1,"z":17,"x":3},{"p":1,"z":17.5,"x":2},{"p":1,"z":18,"x":-2},{"p":1,"z":18.5,"x":0},{"p":1,"z":19,"x":5},{"p":1,"z":19.5,"x":3},{"p":1,"z":20,"x":-4},{"p":1,"z":20.5,"x":-9},{"p":1,"z":21,"x":-8},{"p":1,"z":21.5,"x":-2},{"p":1,"z":22,"x":4},{"p":1,"z":22.5,"x":6},{"p":1,"z":23,"x":2},{"p":1,"z":23.5,"x":-5},{"p":1,"z":24,"x":-9},{"p":1,"z":24.5,"x":-6},{"p":1,"z":25,"x":1},{"p":1,"z":25.5,"x":7},{"p":1,"z":26,"x":9},{"p":1,"z":26.5,"x":4},{"p":1,"z":27,"x":-4},{"p":1,"z":27.5,"x":-9},{"p":1,"z":28,"x":-7},{"p":1,"z":28.5,"x":0},{"p":1,"z":29,"x":6},{"p":1,"z":29.5,"x":4},{"p":1,"z":30,"x":0},{"p":1,"z":30.5,"x":-1},{"p":1,"z":30.8,"x":1},
  {"p":2,"z":0,"x":1},{"p":2,"z":0.5,"x":3},{"p":2,"z":1,"x":4},{"p":2,"z":1.5,"x":2},{"p":2,"z":2,"x":-2},{"p":2,"z":2.5,"x":-5},{"p":2,"z":3,"x":-6},{"p":2,"z":3.5,"x":-3},{"p":2,"z":4,"x":1},{"p":2,"z":4.5,"x":4},{"p":2,"z":5,"x":5},{"p":2,"z":5.5,"x":2},{"p":2,"z":6,"x":-3},{"p":2,"z":6.5,"x":-7},{"p":2,"z":7,"x":-8},{"p":2,"z":7.5,"x":-5},{"p":2,"z":8,"x":-1},{"p":2,"z":8.5,"x":3},{"p":2,"z":9,"x":5},{"p":2,"z":9.5,"x":4},{"p":2,"z":10,"x":2},{"p":2,"z":10.5,"x":4},{"p":2,"z":11,"x":7},{"p":2,"z":11.5,"x":10},{"p":2,"z":12,"x":9},{"p":2,"z":12.5,"x":6},{"p":2,"z":13,"x":4},{"p":2,"z":13.5,"x":6},{"p":2,"z":14,"x":10},{"p":2,"z":14.5,"x":9},{"p":2,"z":15,"x":5},{"p":2,"z":15.5,"x":0},{"p":2,"z":16,"x":2},{"p":2,"z":16.5,"x":-3},{"p":2,"z":17,"x":-5},{"p":2,"z":17.5,"x":-1},{"p":2,"z":18,"x":3},{"p":2,"z":18.5,"x":6},{"p":2,"z":19,"x":1},{"p":2,"z":19.5,"x":-6},{"p":2,"z":20,"x":-10},{"p":2,"z":20.5,"x":-7},{"p":2,"z":21,"x":0},{"p":2,"z":21.5,"x":6},{"p":2,"z":22,"x":9},{"p":2,"z":22.5,"x":5},{"p":2,"z":23,"x":-3},{"p":2,"z":23.5,"x":-10},{"p":2,"z":24,"x":-11},{"p":2,"z":24.5,"x":-5},{"p":2,"z":25,"x":3},{"p":2,"z":25.5,"x":8},{"p":2,"z":26,"x":6},{"p":2,"z":26.5,"x":-2},{"p":2,"z":27,"x":-8},{"p":2,"z":27.5,"x":-5},{"p":2,"z":28,"x":3},{"p":2,"z":28.5,"x":9},{"p":2,"z":29,"x":6},{"p":2,"z":29.5,"x":0},{"p":2,"z":30,"x":-2},{"p":2,"z":30.5,"x":1},{"p":2,"z":30.8,"x":0},
  {"p":3,"z":0,"x":-3},{"p":3,"z":0.5,"x":-1},{"p":3,"z":1,"x":2},{"p":3,"z":1.5,"x":5},{"p":3,"z":2,"x":6},{"p":3,"z":2.5,"x":3},{"p":3,"z":3,"x":-1},{"p":3,"z":3.5,"x":-5},{"p":3,"z":4,"x":-7},{"p":3,"z":4.5,"x":-5},{"p":3,"z":5,"x":-1},{"p":3,"z":5.5,"x":3},{"p":3,"z":6,"x":5},{"p":3,"z":6.5,"x":3},{"p":3,"z":7,"x":-1},{"p":3,"z":7.5,"x":-4},{"p":3,"z":8,"x":-3},{"p":3,"z":8.5,"x":1},{"p":3,"z":9,"x":6},{"p":3,"z":9.5,"x":9},{"p":3,"z":10,"x":8},{"p":3,"z":10.5,"x":5},{"p":3,"z":11,"x":3},{"p":3,"z":11.5,"x":4},{"p":3,"z":12,"x":7},{"p":3,"z":12.5,"x":11},{"p":3,"z":13,"x":12},{"p":3,"z":13.5,"x":9},{"p":3,"z":14,"x":6},{"p":3,"z":14.5,"x":3},{"p":3,"z":15,"x":1},{"p":3,"z":15.5,"x":4},{"p":3,"z":16,"x":6},{"p":3,"z":16.5,"x":2},{"p":3,"z":17,"x":-2},{"p":3,"z":17.5,"x":-4},{"p":3,"z":18,"x":0},{"p":3,"z":18.5,"x":4},{"p":3,"z":19,"x":9},{"p":3,"z":19.5,"x":8},{"p":3,"z":20,"x":2},{"p":3,"z":20.5,"x":-5},{"p":3,"z":21,"x":-11},{"p":3,"z":21.5,"x":-10},{"p":3,"z":22,"x":-3},{"p":3,"z":22.5,"x":4},{"p":3,"z":23,"x":8},{"p":3,"z":23.5,"x":6},{"p":3,"z":24,"x":-1},{"p":3,"z":24.5,"x":-8},{"p":3,"z":25,"x":-12},{"p":3,"z":25.5,"x":-7},{"p":3,"z":26,"x":1},{"p":3,"z":26.5,"x":8},{"p":3,"z":27,"x":11},{"p":3,"z":27.5,"x":6},{"p":3,"z":28,"x":-2},{"p":3,"z":28.5,"x":-8},{"p":3,"z":29,"x":-5},{"p":3,"z":29.5,"x":1},{"p":3,"z":30,"x":3},{"p":3,"z":30.5,"x":0},{"p":3,"z":30.8,"x":-1},
  {"p":4,"z":0,"x":2},{"p":4,"z":0.5,"x":0},{"p":4,"z":1,"x":-3},{"p":4,"z":1.5,"x":-6},{"p":4,"z":2,"x":-5},{"p":4,"z":2.5,"x":-1},{"p":4,"z":3,"x":3},{"p":4,"z":3.5,"x":7},{"p":4,"z":4,"x":6},{"p":4,"z":4.5,"x":2},{"p":4,"z":5,"x":-2},{"p":4,"z":5.5,"x":-6},{"p":4,"z":6,"x":-9},{"p":4,"z":6.5,"x":-6},{"p":4,"z":7,"x":-2},{"p":4,"z":7.5,"x":2},{"p":4,"z":8,"x":4},{"p":4,"z":8.5,"x":2},{"p":4,"z":9,"x":-2},{"p":4,"z":9.5,"x":-4},{"p":4,"z":10,"x":-1},{"p":4,"z":10.5,"x":3},{"p":4,"z":11,"x":6},{"p":4,"z":11.5,"x":8},{"p":4,"z":12,"x":5},{"p":4,"z":12.5,"x":3},{"p":4,"z":13,"x":5},{"p":4,"z":13.5,"x":8},{"p":4,"z":14,"x":11},{"p":4,"z":14.5,"x":8},{"p":4,"z":15,"x":4},{"p":4,"z":15.5,"x":-2},{"p":4,"z":16,"x":-4},{"p":4,"z":16.5,"x":0},{"p":4,"z":17,"x":5},{"p":4,"z":17.5,"x":7},{"p":4,"z":18,"x":4},{"p":4,"z":18.5,"x":-1},{"p":4,"z":19,"x":-4},{"p":4,"z":19.5,"x":-1},{"p":4,"z":20,"x":5},{"p":4,"z":20.5,"x":10},{"p":4,"z":21,"x":8},{"p":4,"z":21.5,"x":1},{"p":4,"z":22,"x":-6},{"p":4,"z":22.5,"x":-10},{"p":4,"z":23,"x":-7},{"p":4,"z":23.5,"x":1},{"p":4,"z":24,"x":7},{"p":4,"z":24.5,"x":10},{"p":4,"z":25,"x":5},{"p":4,"z":25.5,"x":-3},{"p":4,"z":26,"x":-10},{"p":4,"z":26.5,"x":-11},{"p":4,"z":27,"x":-4},{"p":4,"z":27.5,"x":4},{"p":4,"z":28,"x":10},{"p":4,"z":28.5,"x":7},{"p":4,"z":29,"x":-1},{"p":4,"z":29.5,"x":-4},{"p":4,"z":30,"x":-1},{"p":4,"z":30.5,"x":2},{"p":4,"z":30.8,"x":1}
 ],
 "pt": [
  {"p":1,"z":0,"x":301},{"p":1,"z":0.5,"x":302},{"p":1,"z":1,"x":303.5},{"p":1,"z":1.5,"x":305},{"p":1,"z":2,"x":307},{"p":1,"z":3,"x":311},{"p":1,"z":4,"x":316},{"p":1,"z":4.5,"x":319},{"p":1,"z":5,"x":323},{"p":1,"z":5.5,"x":327},{"p":1,"z":6,"x":329},{"p":1,"z":7,"x":332},{"p":1,"z":8,"x":335},{"p":1,"z":9,"x":339},{"p":1,"z":10,"x":342},{"p":1,"z":11,"x":344},{"p":1,"z":12,"x":346},{"p":1,"z":13,"x":348},{"p":1,"z":14,"x":349},{"p":1,"z":15,"x":352},{"p":1,"z":15.4,"x":356},{"p":1,"z":15.7,"x":362},{"p":1,"z":16,"x":372},{"p":1,"z":16.5,"x":380},{"p":1,"z":17,"x":387},{"p":1,"z":17.5,"x":398},{"p":1,"z":18,"x":410},{"p":1,"z":18.5,"x":420},{"p":1,"z":19,"x":436},{"p":1,"z":19.5,"x":450},{"p":1,"z":20,"x":462},{"p":1,"z":20.5,"x":472},{"p":1,"z":21,"x":490},{"p":1,"z":21.5,"x":505},{"p":1,"z":22,"x":520},{"p":1,"z":22.5,"x":530},{"p":1,"z":23,"x":545},{"p":1,"z":23.5,"x":560},{"p":1,"z":24,"x":576},{"p":1,"z":24.5,"x":590},{"p":1,"z":25,"x":605},{"p":1,"z":25.5,"x":620},{"p":1,"z":26,"x":638},{"p":1,"z":26.5,"x":655},{"p":1,"z":27,"x":675},{"p":1,"z":27.4,"x":700},
  {"p":2,"z":0,"x":300},{"p":2,"z":1,"x":303},{"p":2,"z":2,"x":306},{"p":2,"z":3,"x":310},{"p":2,"z":4,"x":315},{"p":2,"z":5,"x":321},{"p":2,"z":6,"x":327},{"p":2,"z":7,"x":331},{"p":2,"z":8,"x":335},{"p":2,"z":9,"x":338},{"p":2,"z":10,"x":341},{"p":2,"z":11,"x":344},{"p":2,"z":12,"x":346},{"p":2,"z":13,"x":347},{"p":2,"z":14,"x":349},{"p":2,"z":15,"x":351},{"p":2,"z":15.5,"x":358},{"p":2,"z":15.8,"x":366},{"p":2,"z":16.2,"x":376},{"p":2,"z":16.6,"x":382},{"p":2,"z":17,"x":390},{"p":2,"z":17.5,"x":402},{"p":2,"z":18,"x":413},{"p":2,"z":18.5,"x":425},{"p":2,"z":19,"x":440},{"p":2,"z":19.5,"x":455},{"p":2,"z":20,"x":466},{"p":2,"z":20.5,"x":478},{"p":2,"z":21,"x":492},{"p":2,"z":21.5,"x":508},{"p":2,"z":22,"x":522},{"p":2,"z":22.5,"x":534},{"p":2,"z":23,"x":548},{"p":2,"z":23.5,"x":563},{"p":2,"z":24,"x":578},{"p":2,"z":24.5,"x":593},{"p":2,"z":25,"x":608},{"p":2,"z":25.5,"x":624},{"p":2,"z":26,"x":640},{"p":2,"z":26.5,"x":660},{"p":2,"z":27,"x":680},{"p":2,"z":27.3,"x":700},
  {"p":3,"z":0,"x":302},{"p":3,"z":1,"x":304},{"p":3,"z":2,"x":308},{"p":3,"z":3,"x":312},{"p":3,"z":4,"x":317},{"p":3,"z":5,"x":323},{"p":3,"z":6,"x":328},{"p":3,"z":7,"x":333},{"p":3,"z":8,"x":336},{"p":3,"z":9,"x":340},{"p":3,"z":10,"x":343},{"p":3,"z":11,"x":345},{"p":3,"z":12,"x":347},{"p":3,"z":13,"x":349},{"p":3,"z":14,"x":351},{"p":3,"z":15,"x":353},{"p":3,"z":15.4,"x":355},{"p":3,"z":15.7,"x":360},{"p":3,"z":16,"x":369},{"p":3,"z":16.5,"x":381},{"p":3,"z":17,"x":392},{"p":3,"z":17.5,"x":403},{"p":3,"z":18,"x":416},{"p":3,"z":18.5,"x":428},{"p":3,"z":19,"x":442},{"p":3,"z":19.5,"x":457},{"p":3,"z":20,"x":468},{"p":3,"z":20.5,"x":480},{"p":3,"z":21,"x":494},{"p":3,"z":21.5,"x":507},{"p":3,"z":22,"x":524},{"p":3,"z":22.5,"x":537},{"p":3,"z":23,"x":550},{"p":3,"z":23.5,"x":566},{"p":3,"z":24,"x":580},{"p":3,"z":24.5,"x":596},{"p":3,"z":25,"x":612},{"p":3,"z":25.5,"x":628},{"p":3,"z":26,"x":645},{"p":3,"z":26.5,"x":664},{"p":3,"z":27,"x":684},{"p":3,"z":27.4,"x":704},
  {"p":4,"z":0,"x":301},{"p":4,"z":1,"x":302},{"p":4,"z":2,"x":305},{"p":4,"z":3,"x":309},{"p":4,"z":4,"x":314},{"p":4,"z":5,"x":319},{"p":4,"z":6,"x":326},{"p":4,"z":7,"x":330},{"p":4,"z":8,"x":334},{"p":4,"z":9,"x":337},{"p":4,"z":10,"x":340},{"p":4,"z":11,"x":343},{"p":4,"z":12,"x":345},{"p":4,"z":13,"x":347},{"p":4,"z":14,"x":348},{"p":4,"z":15,"x":350},{"p":4,"z":15.5,"x":353},{"p":4,"z":16,"x":364},{"p":4,"z":16.5,"x":377},{"p":4,"z":17,"x":388},{"p":4,"z":17.5,"x":399},{"p":4,"z":18,"x":411},{"p":4,"z":18.5,"x":422},{"p":4,"z":19,"x":437},{"p":4,"z":19.5,"x":452},{"p":4,"z":20,"x":463},{"p":4,"z":20.5,"x":476},{"p":4,"z":21,"x":489},{"p":4,"z":21.5,"x":503},{"p":4,"z":22,"x":518},{"p":4,"z":22.5,"x":532},{"p":4,"z":23,"x":545},{"p":4,"z":23.5,"x":560},{"p":4,"z":24,"x":574},{"p":4,"z":24.5,"x":589},{"p":4,"z":25,"x":604},{"p":4,"z":25.5,"x":620},{"p":4,"z":26,"x":636},{"p":4,"z":26.5,"x":654},{"p":4,"z":27,"x":673},{"p":4,"z":27.5,"x":700}
 ]
},
"hconcat": [
 {
  "width": 611, "height": 912,
  "resolve": {"scale": {"x": "independent", "y": "independent"}, "axis": {"x": "independent", "y": "independent"}},
  "layer": [
   {
    "encoding": {
     "x": {"field": "x", "type": "quantitative", "scale": {"type": "log", "domain": [0.5, 100000]},
      "axis": {"orient": "bottom", "title": "water vapor [ppmv]", "labelPadding": 41, "titlePadding": 9,
       "values": [0.5,0.6,0.7,0.8,0.9,1,2,3,4,5,6,7,8,9,10,20,30,40,50,60,70,80,90,100,200,300,400,500,600,700,800,900,1000,2000,3000,4000,5000,6000,7000,8000,9000,10000,20000,30000,40000,50000,60000,70000,80000,90000,100000],
       "labelExpr": "abs(log(datum.value)/LN10-round(log(datum.value)/LN10))<0.01 ? '10' + ['⁰','¹','²','³','⁴','⁵'][round(log(datum.value)/LN10)] : ''",
       "tickSize": {"condition": {"test": "abs(log(datum.value)/LN10-round(log(datum.value)/LN10))<0.01", "value": -22}, "value": -11},
       "tickWidth": {"condition": {"test": "abs(log(datum.value)/LN10-round(log(datum.value)/LN10))<0.01", "value": 3}, "value": 1.5},
       "tickColor": {"condition": {"test": "abs(log(datum.value)/LN10-round(log(datum.value)/LN10))<0.01", "value": "#000"}, "value": "#777"}}},
     "y": {"field": "z", "type": "quantitative", "scale": {"domain": [0, 32], "nice": false, "zero": false},
      "axis": {"orient": "left", "title": "Z [km]", "labelPadding": 47, "titlePadding": 26,
       "values": [0,1,2,3,4,5,6,7,8,9,10,11,12,13,14,15,16,17,18,19,20,21,22,23,24,25,26,27,28,29,30,31],
       "labelExpr": "datum.value % 5 === 0 ? datum.label : ''",
       "tickSize": {"condition": {"test": "datum.value % 5 === 0", "value": -25}, "value": -13},
       "tickWidth": {"condition": {"test": "datum.value % 5 === 0", "value": 3}, "value": 1.5},
       "tickColor": {"condition": {"test": "datum.value % 5 === 0", "value": "#000"}, "value": "#777"}}}
    },
    "layer": [
     {"data": {"name": "wv"}, "mark": {"type": "line", "color": "#ff0000", "strokeWidth": 1.5, "clip": true}, "encoding": {"detail": {"field": "p"}, "order": {"field": "z"}}},
     {"data": {"name": "swv"}, "mark": {"type": "line", "color": "#0000ff", "strokeWidth": 1.5, "clip": true}, "encoding": {"detail": {"field": "p"}, "order": {"field": "z"}}},
     {"data": {"values": [{"x": 0.648, "z": 26.97, "t": "WV"}]}, "mark": {"type": "text", "color": "#ff0000", "font": "Open Sans", "fontSize": 56, "align": "left", "baseline": "alphabetic"}, "encoding": {"text": {"field": "t"}}},
     {"data": {"values": [{"x": 47.5, "z": 26.17, "t": "SWV"}]}, "mark": {"type": "text", "color": "#0000ff", "font": "Open Sans", "fontSize": 56, "align": "left", "baseline": "alphabetic"}, "encoding": {"text": {"field": "t"}}},
     {"data": {"values": [{"x": 11500, "z": 26.17, "t": "O3"}]}, "mark": {"type": "text", "color": "#008a00", "font": "Open Sans", "fontSize": 56, "align": "left", "baseline": "alphabetic"}, "encoding": {"text": {"field": "t"}}},
     {"data": {"values": [{"x": 0.0438, "z": 31.1, "t": "ful"}, {"x": 0.0358, "z": 25.05, "t": "ed"}, {"x": 0.0265, "z": 23.04, "t": "d"}, {"x": 0.0276, "z": 21.0, "t": "s."}]}, "mark": {"type": "text", "color": "#000", "font": "Open Sans", "fontSize": 40, "align": "right", "baseline": "alphabetic"}, "encoding": {"text": {"field": "t"}}}
    ]
   },
   {
    "encoding": {
     "x": {"field": "x", "type": "quantitative", "scale": {"type": "log", "domain": [5, 50000]},
      "axis": {"orient": "top", "title": "ozone [ppbv]", "labelPadding": 45, "titlePadding": 11,
       "values": [5,6,7,8,9,10,20,30,40,50,60,70,80,90,100,200,300,400,500,600,700,800,900,1000,2000,3000,4000,5000,6000,7000,8000,9000,10000,20000,30000,40000,50000],
       "labelExpr": "abs(log(datum.value)/LN10-round(log(datum.value)/LN10))<0.01 ? '10' + ['⁰','¹','²','³','⁴','⁵'][round(log(datum.value)/LN10)] : ''",
       "tickSize": {"condition": {"test": "abs(log(datum.value)/LN10-round(log(datum.value)/LN10))<0.01", "value": -22}, "value": -11},
       "tickWidth": {"condition": {"test": "abs(log(datum.value)/LN10-round(log(datum.value)/LN10))<0.01", "value": 3}, "value": 1.5},
       "tickColor": {"condition": {"test": "abs(log(datum.value)/LN10-round(log(datum.value)/LN10))<0.01", "value": "#000"}, "value": "#777"}}},
     "y": {"field": "z", "type": "quantitative", "scale": {"domain": [0, 32], "nice": false, "zero": false},
      "axis": {"orient": "right", "title": null, "labels": false,
       "values": [0,1,2,3,4,5,6,7,8,9,10,11,12,13,14,15,16,17,18,19,20,21,22,23,24,25,26,27,28,29,30,31],
       "tickSize": {"condition": {"test": "datum.value % 5 === 0", "value": -25}, "value": -13},
       "tickWidth": {"condition": {"test": "datum.value % 5 === 0", "value": 3}, "value": 1.5},
       "tickColor": {"condition": {"test": "datum.value % 5 === 0", "value": "#000"}, "value": "#777"}}}
    },
    "layer": [
     {"data": {"name": "o3"}, "mark": {"type": "line", "color": "#00ee00", "strokeWidth": 1.5, "clip": true}, "encoding": {"detail": {"field": "p"}, "order": {"field": "z"}}},
     {"data": {"values": [{"x": 4.36, "x2": 127000, "z": 18.34}, {"x": 4.36, "x2": 127000, "z": 15.86}]}, "mark": {"type": "rule", "color": "#4f81bd", "strokeWidth": 4, "clip": false}, "encoding": {"x2": {"field": "x2"}}}
    ]
   }
  ]
 },
 {
  "width": 458, "height": 912,
  "resolve": {"scale": {"x": "independent", "y": "independent"}, "axis": {"x": "independent", "y": "independent"}},
  "layer": [
   {
    "encoding": {
     "x": {"field": "x", "type": "quantitative", "scale": {"domain": [-60, 60], "nice": false, "zero": false},
      "axis": {"orient": "top", "title": "u, v [m/s]", "labelPadding": 45, "titlePadding": 11,
       "values": [-60,-50,-40,-30,-20,-10,0,10,20,30,40,50,60],
       "labelExpr": "datum.value % 30 === 0 ? datum.label : ''",
       "tickSize": {"condition": {"test": "datum.value % 30 === 0", "value": -22}, "value": -11},
       "tickWidth": {"condition": {"test": "datum.value % 30 === 0", "value": 3}, "value": 1.5},
       "tickColor": {"condition": {"test": "datum.value % 30 === 0", "value": "#000"}, "value": "#777"}}},
     "y": {"field": "z", "type": "quantitative", "scale": {"domain": [0, 32], "nice": false, "zero": false},
      "axis": {"orient": "left", "title": null, "labels": false,
       "values": [0,1,2,3,4,5,6,7,8,9,10,11,12,13,14,15,16,17,18,19,20,21,22,23,24,25,26,27,28,29,30,31],
       "tickSize": {"condition": {"test": "datum.value % 5 === 0", "value": -25}, "value": -13},
       "tickWidth": {"condition": {"test": "datum.value % 5 === 0", "value": 3}, "value": 1.5},
       "tickColor": {"condition": {"test": "datum.value % 5 === 0", "value": "#000"}, "value": "#777"}}}
    },
    "layer": [
     {"data": {"values": [{"x": 0, "z": 0, "z2": 30.8}]}, "mark": {"type": "rule", "color": "#a8a8a8", "strokeWidth": 3}, "encoding": {"y2": {"field": "z2"}}},
     {"data": {"name": "u"}, "mark": {"type": "line", "color": "#ff0000", "strokeWidth": 1.5, "clip": true}, "encoding": {"detail": {"field": "p"}, "order": {"field": "z"}}},
     {"data": {"name": "v"}, "mark": {"type": "line", "color": "#0000ff", "strokeWidth": 1.5, "clip": true}, "encoding": {"detail": {"field": "p"}, "order": {"field": "z"}}},
     {"data": {"values": [{"x": -39.8, "z": 25.64, "t": "u"}]}, "mark": {"type": "text", "color": "#ff0000", "font": "Open Sans", "fontSize": 56, "align": "left", "baseline": "alphabetic"}, "encoding": {"text": {"field": "t"}}},
     {"data": {"values": [{"x": -31.4, "z": 25.64, "t": ","}]}, "mark": {"type": "text", "color": "#000000", "font": "Open Sans", "fontSize": 56, "align": "left", "baseline": "alphabetic"}, "encoding": {"text": {"field": "t"}}},
     {"data": {"values": [{"x": -25.9, "z": 25.64, "t": "v"}]}, "mark": {"type": "text", "color": "#0000ff", "font": "Open Sans", "fontSize": 56, "align": "left", "baseline": "alphabetic"}, "encoding": {"text": {"field": "t"}}},
     {"data": {"values": [{"x": 30.9, "z": 25.64, "t": "PT"}]}, "mark": {"type": "text", "color": "#008a00", "font": "Open Sans", "fontSize": 56, "align": "left", "baseline": "alphabetic"}, "encoding": {"text": {"field": "t"}}}
    ]
   },
   {
    "encoding": {
     "x": {"field": "x", "type": "quantitative", "scale": {"type": "log", "domain": [280, 700]},
      "axis": {"orient": "bottom", "title": "pot. T [K]", "labelPadding": 44, "titlePadding": 7,
       "values": [300,350,400,450,500,550,600,650,700],
       "labelExpr": "datum.value % 100 === 0 ? datum.label : ''",
       "tickSize": {"condition": {"test": "datum.value % 100 === 0", "value": -25}, "value": -12},
       "tickWidth": {"condition": {"test": "datum.value % 100 === 0", "value": 3}, "value": 1.5},
       "tickColor": {"condition": {"test": "datum.value % 100 === 0", "value": "#000"}, "value": "#777"}}},
     "y": {"field": "z", "type": "quantitative", "scale": {"domain": [0, 32], "nice": false, "zero": false},
      "axis": {"orient": "right", "title": "Z [km]", "titleAngle": 270, "labelAlign": "right", "labelPadding": 99, "titlePadding": 60,
       "values": [0,1,2,3,4,5,6,7,8,9,10,11,12,13,14,15,16,17,18,19,20,21,22,23,24,25,26,27,28,29,30,31],
       "labelExpr": "datum.value % 5 === 0 ? datum.label : ''",
       "tickSize": {"condition": {"test": "datum.value % 5 === 0", "value": -25}, "value": -13},
       "tickWidth": {"condition": {"test": "datum.value % 5 === 0", "value": 3}, "value": 1.5},
       "tickColor": {"condition": {"test": "datum.value % 5 === 0", "value": "#000"}, "value": "#777"}}}
    },
    "layer": [
     {"data": {"name": "pt"}, "mark": {"type": "line", "color": "#00ee00", "strokeWidth": 1.5, "clip": true}, "encoding": {"detail": {"field": "p"}, "order": {"field": "z"}}},
     {"data": {"values": [{"x": 257, "x2": 735, "z": 18.34}, {"x": 257, "x2": 735, "z": 15.86}]}, "mark": {"type": "rule", "color": "#4f81bd", "strokeWidth": 4, "clip": false}, "encoding": {"x2": {"field": "x2"}}}
    ]
   }
  ]
 }
]
}
